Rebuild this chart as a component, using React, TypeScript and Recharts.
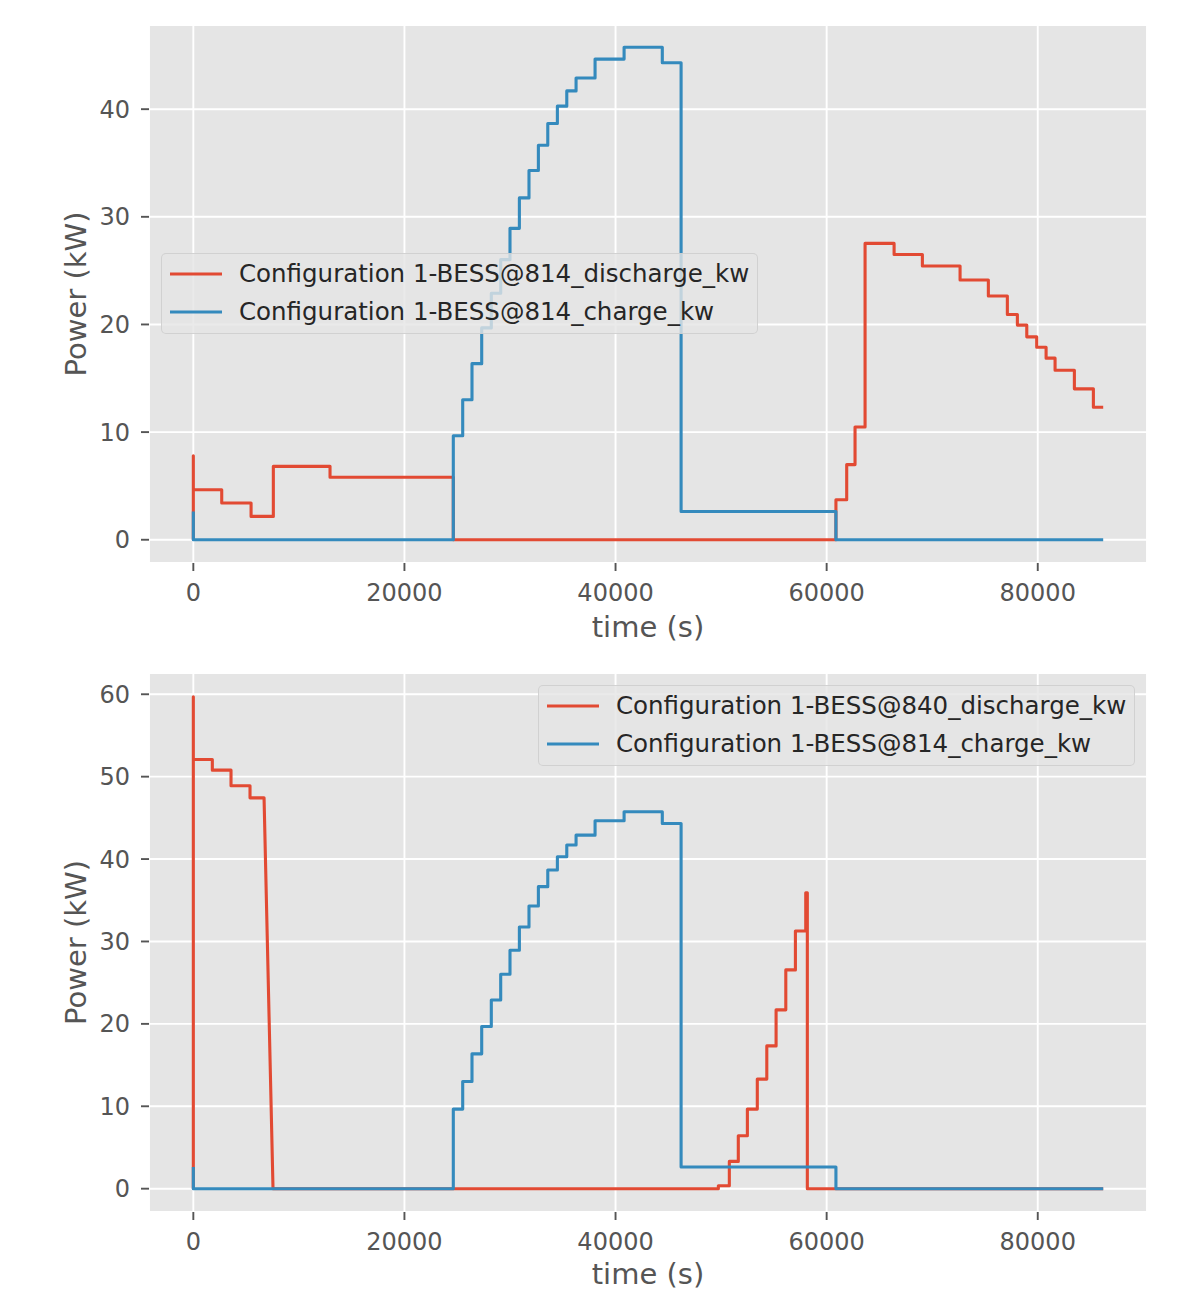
import React from 'react';
import { LineChart, Line, XAxis, YAxis, CartesianGrid, Legend } from 'recharts';

const FONT = "'DejaVu Sans', 'Liberation Sans', sans-serif";
const RED = '#E24A33';
const BLUE = '#348ABD';
const TICK_COLOR = '#555555';

// ---------- tick labels ----------
const xTicks = [0, 20000, 40000, 60000, 80000];
const topYTicks = [0, 10, 20, 30, 40];
const bottomYTicks = [0, 10, 20, 30, 40, 50, 60];

// ---------- legend labels ----------
const topLegendLabels = ['Configuration 1-BESS@814_discharge_kw', 'Configuration 1-BESS@814_charge_kw'];
const bottomLegendLabels = ['Configuration 1-BESS@840_discharge_kw', 'Configuration 1-BESS@814_charge_kw'];
const legendColors = [RED, BLUE];

// ---------- series: BESS@814 discharge (kW) ----------
const discharge814T = [
  0, 0, 0, 2690, 2690, 5470, 5470, 7580, 7580, 12950, 12950, 24630, 24630,
  60880, 60880, 61900, 61900, 62690, 62690, 63640, 63640, 66390, 66390, 69070, 69070,
  72640, 72640, 75320, 75320, 77120, 77120, 78070, 78070, 78960, 78960, 79900, 79900,
  80790, 80790, 81640, 81640, 83470, 83470, 85270, 85270, 86200,
];
const discharge814V = [
  0, 7.8, 4.65, 4.65, 3.41, 3.41, 2.17, 2.17, 6.82, 6.82, 5.8, 5.8, 0,
  0, 3.72, 3.72, 6.98, 6.98, 10.48, 10.48, 27.53, 27.53, 26.5, 26.5, 25.43,
  25.43, 24.13, 24.13, 22.64, 22.64, 20.93, 20.93, 19.94, 19.94, 18.85, 18.85, 17.89,
  17.89, 16.87, 16.87, 15.75, 15.75, 14.02, 14.02, 12.31, 12.31,
];

// ---------- series: BESS@814 charge (kW) ----------
const charge814T = [
  0, 0, 24630, 24630, 25520, 25520, 26400, 26400, 27320, 27320, 28230, 28230,
  29120, 29120, 30000, 30000, 30890, 30890, 31800, 31800, 32690, 32690, 33580, 33580,
  34490, 34490, 35380, 35380, 36260, 36260, 38060, 38060, 40810, 40810, 44430, 44430,
  46210, 46210, 60880, 60880, 86200,
];
const charge814V = [
  2.63, 0, 0, 9.66, 9.66, 13.0, 13.0, 16.36, 16.36, 19.68, 19.68, 22.9,
  22.9, 26.02, 26.02, 28.93, 28.93, 31.76, 31.76, 34.3, 34.3, 36.65, 36.65, 38.67,
  38.67, 40.28, 40.28, 41.7, 41.7, 42.9, 42.9, 44.65, 44.65, 45.75, 45.75, 44.32,
  44.32, 2.63, 2.63, 0, 0,
];

// ---------- series: BESS@840 discharge (kW) ----------
const discharge840T = [
  0, 0, 0, 1800, 1800, 3570, 3570, 5370, 5370, 6700, 7550,
  49740, 49740, 50780, 50780, 51630, 51630, 52490, 52490, 53430, 53430, 54330, 54330,
  55210, 55210, 56130, 56130, 57040, 57040, 58020, 58020, 58170, 58170, 86200,
];
const discharge840V = [
  0, 59.7, 52.08, 52.08, 50.79, 50.79, 48.89, 48.89, 47.43, 47.43, 0,
  0, 0.36, 0.36, 3.31, 3.31, 6.42, 6.42, 9.66, 9.66, 13.3, 13.3, 17.33,
  17.33, 21.7, 21.7, 26.55, 26.55, 31.27, 31.27, 35.9, 35.9, 0, 0,
];

type Pt = { t: number; v: number };
const zip = (ts: number[], vs: number[]): Pt[] => ts.map((t, i) => ({ t, v: vs[i] }));

const discharge814 = zip(discharge814T, discharge814V);
const charge814 = zip(charge814T, charge814V);
const discharge840 = zip(discharge840T, discharge840V);

const makeLegendBox = (labels: string[]) => () => (
  <div
    style={{
      width: 597,
      height: 81,
      boxSizing: 'border-box',
      background: 'rgba(229,229,229,0.8)',
      border: '1px solid rgba(204,204,204,0.8)',
      borderRadius: 5,
      position: 'relative',
      fontFamily: FONT,
      fontSize: 24.5,
      color: '#262626',
    }}
  >
    {labels.map((label, i) => (
      <div
        key={i}
        style={{
          position: 'absolute',
          left: 0,
          top: 20 - 18 + i * 37.5,
          height: 36,
          display: 'flex',
          alignItems: 'center',
          whiteSpace: 'nowrap',
        }}
      >
        <svg width={70} height={36} style={{ display: 'block' }}>
          <line x1={8} x2={60} y1={18} y2={18} stroke={legendColors[i]} strokeWidth={3.2} />
        </svg>
        <span style={{ marginLeft: 7, lineHeight: '36px' }}>{label}</span>
      </div>
    ))}
  </div>
);

const makeXLabel = (offset: number) => (props: any) => {
  const vb = props.viewBox || { x: 0, y: 0, width: 0, height: 0 };
  return (
    <text
      x={vb.x + vb.width / 2}
      y={vb.y + offset}
      textAnchor="middle"
      fontSize={29}
      fill={TICK_COLOR}
      fontFamily={FONT}
    >
      time (s)
    </text>
  );
};

const makeYLabel = (props: any) => {
  const vb = props.viewBox || { x: 0, y: 0, width: 0, height: 0 };
  const cx = 86;
  const cy = vb.y + vb.height / 2;
  return (
    <text
      x={cx}
      y={cy}
      textAnchor="middle"
      fontSize={29}
      fill={TICK_COLOR}
      fontFamily={FONT}
      transform={`rotate(-90, ${cx}, ${cy})`}
    >
      Power (kW)
    </text>
  );
};

type PanelProps = {
  top: number;
  height: number;
  marginTop: number;
  xAxisHeight: number;
  xLabelOffset: number;
  yDomain: [number, number];
  yTicks: number[];
  redData: Pt[];
  blueData: Pt[];
  labels: string[];
  legendLeft: number;
  legendTop: number;
};

const Panel = (p: PanelProps) => (
  <div style={{ position: 'absolute', left: 0, top: p.top, width: 1177, height: p.height }}>
    <LineChart width={1177} height={p.height} margin={{ top: p.marginTop, right: 30, left: 0, bottom: 0 }}>
      <CartesianGrid stroke="#ffffff" strokeWidth={1.9} fill="#E5E5E5" fillOpacity={1} />
      <XAxis
        type="number"
        dataKey="t"
        domain={[-4200, 90350]}
        ticks={xTicks}
        interval={0}
        allowDataOverflow
        height={p.xAxisHeight}
        axisLine={false}
        tickSize={8}
        tickMargin={13}
        tickLine={{ stroke: TICK_COLOR, strokeWidth: 1.9 }}
        tick={{ fill: TICK_COLOR, fontSize: 24, fontFamily: FONT }}
        label={makeXLabel(p.xLabelOffset)}
      />
      <YAxis
        type="number"
        domain={p.yDomain}
        ticks={p.yTicks}
        interval={0}
        allowDataOverflow
        width={149}
        axisLine={false}
        tickSize={8}
        tickMargin={11}
        tickLine={{ stroke: TICK_COLOR, strokeWidth: 1.9 }}
        tick={{ fill: TICK_COLOR, fontSize: 24, fontFamily: FONT }}
        label={makeYLabel}
      />
      <Line
        data={p.redData}
        dataKey="v"
        name={p.labels[0]}
        type="linear"
        stroke={RED}
        strokeWidth={3.1}
        strokeLinejoin="round"
        dot={false}
        activeDot={false}
        isAnimationActive={false}
      />
      <Line
        data={p.blueData}
        dataKey="v"
        name={p.labels[1]}
        type="linear"
        stroke={BLUE}
        strokeWidth={3.1}
        strokeLinejoin="round"
        dot={false}
        activeDot={false}
        isAnimationActive={false}
      />
      <Legend
        layout="horizontal"
        verticalAlign="middle"
        align="center"
        content={makeLegendBox(p.labels)}
        wrapperStyle={{ position: 'absolute', left: p.legendLeft, top: p.legendTop, width: 597, height: 81 }}
      />
    </LineChart>
  </div>
);

export default function App() {
  return (
    <div
      style={{
        position: 'absolute',
        left: 0,
        top: 0,
        width: 1177,
        height: 1290,
        overflow: 'hidden',
        background: '#ffffff',
        fontFamily: FONT,
      }}
    >
      <Panel
        top={0}
        height={660}
        marginTop={25}
        xAxisHeight={97}
        xLabelOffset={74}
        yDomain={[-2.16, 47.82]}
        yTicks={topYTicks}
        redData={discharge814}
        blueData={charge814}
        labels={topLegendLabels}
        legendLeft={161}
        legendTop={253}
      />
      <Panel
        top={640}
        height={650}
        marginTop={33}
        xAxisHeight={78}
        xLabelOffset={72}
        yDomain={[-2.83, 62.58]}
        yTicks={bottomYTicks}
        redData={discharge840}
        blueData={charge814}
        labels={bottomLegendLabels}
        legendLeft={538}
        legendTop={45}
      />
    </div>
  );
}
